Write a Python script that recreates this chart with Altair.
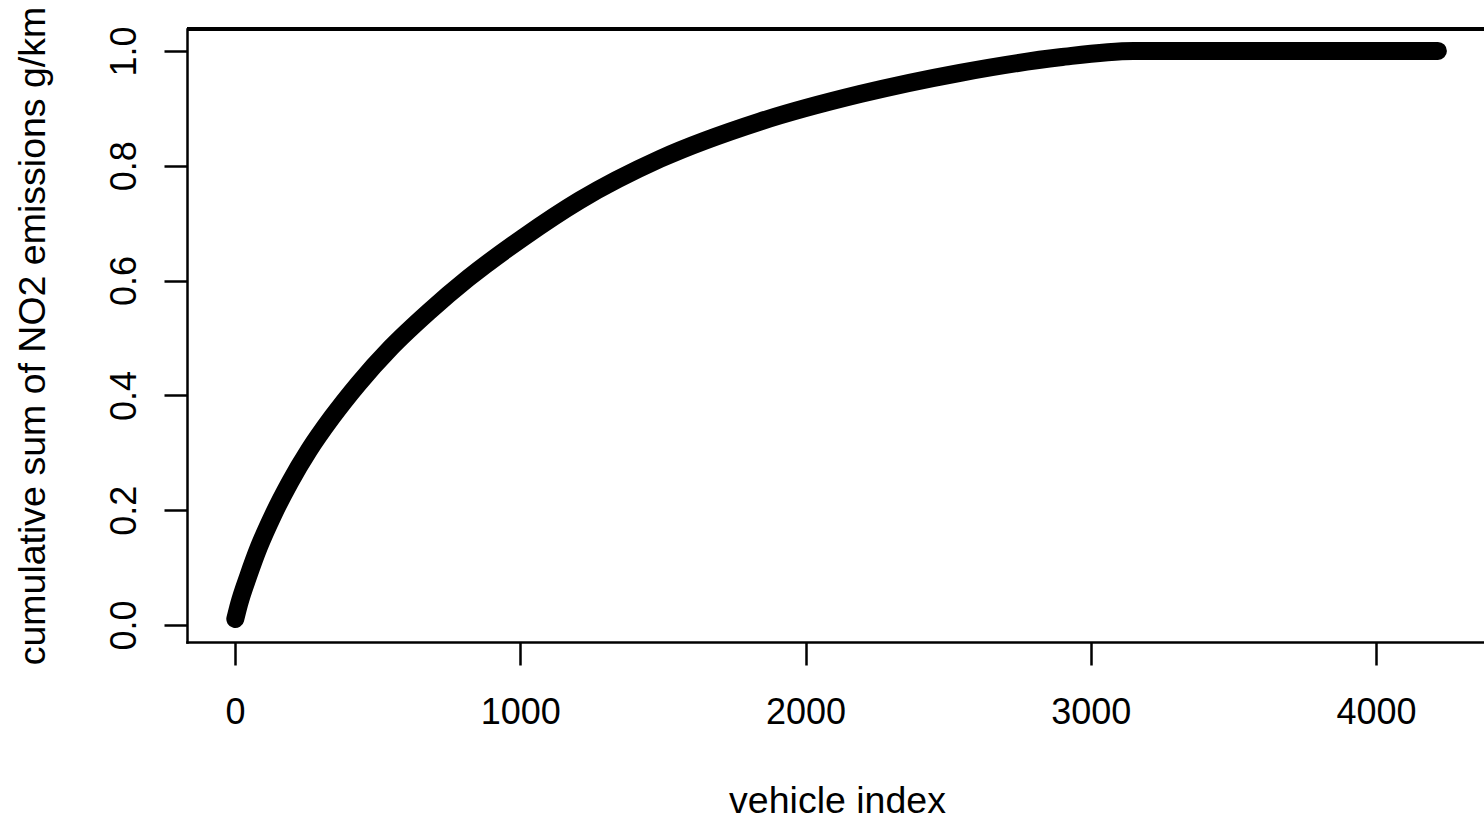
import altair as alt
import pandas as pd

# values
vehicle_index = [1, 14, 47, 84, 134, 193, 260, 340, 432, 546, 680, 817, 1010, 1209,
                 1490, 1840, 2191, 2542, 2892, 3150, 4217]
cum_share = [0.0105, 0.036, 0.086, 0.136, 0.192, 0.249, 0.305, 0.362, 0.420, 0.483, 0.546,
             0.604, 0.675, 0.740, 0.812, 0.877, 0.925, 0.962, 0.989, 1.0, 1.0]

x_ticks = [0, 1000, 2000, 3000, 4000]
y_ticks = [0.0, 0.2, 0.4, 0.6, 0.8, 1.0]

df = pd.DataFrame({"idx": vehicle_index, "cum": cum_share})

W, H = 1297, 613
FONT = "Liberation Sans"

line = alt.Chart(df).mark_line(
    color="black", strokeWidth=18, strokeCap="round", strokeJoin="round",
    interpolate="monotone"
).encode(
    x=alt.X("idx:Q",
            scale=alt.Scale(domain=[-168.3, 4378.6], nice=False, zero=False),
            axis=alt.Axis(values=x_ticks, format="d", title="vehicle index",
                          grid=False, domain=True, domainColor="black", domainWidth=2.5,
                          domainCap="square",
                          ticks=True, tickColor="black", tickWidth=2.5, tickSize=23,
                          labelFont=FONT, labelFontSize=36, labelColor="black",
                          labelBaseline="alphabetic", labelPadding=58,
                          titleFont=FONT, titleFontSize=37.5, titleFontWeight="normal",
                          titleColor="black", titleBaseline="alphabetic",
                          titleX=650, titleY=170)),
    y=alt.Y("cum:Q",
            scale=alt.Scale(domain=[-0.0296, 1.0383], nice=False, zero=False),
            axis=alt.Axis(values=y_ticks, format=".1f",
                          title="cumulative sum of NO2 emissions g/km",
                          grid=False, domain=True, domainColor="black", domainWidth=2.5,
                          domainCap="square",
                          ticks=True, tickColor="black", tickWidth=2.5, tickSize=23,
                          labelFont=FONT, labelFontSize=36, labelColor="black",
                          labelAngle=270, labelAlign="center", labelBaseline="alphabetic",
                          labelPadding=29,
                          titleFont=FONT, titleFontSize=37.5, titleFontWeight="normal",
                          titleColor="black", titleAngle=270, titleBaseline="alphabetic",
                          titleX=-143, titleY=306.5)),
)

top_border = alt.Chart(df).mark_rule(color="black", strokeWidth=2.5).encode(
    x=alt.value(0), x2=alt.value(W), y=alt.value(0)
)

chart = alt.layer(line, top_border).properties(
    width=W, height=H,
    autosize=alt.AutoSizeParams(type="none"),
    padding={"left": 187, "top": 29, "right": 0, "bottom": 176},
    background="white",
).configure_view(stroke=None)

chart.save("out.html", embed_options={"renderer": "svg", "actions": False})
